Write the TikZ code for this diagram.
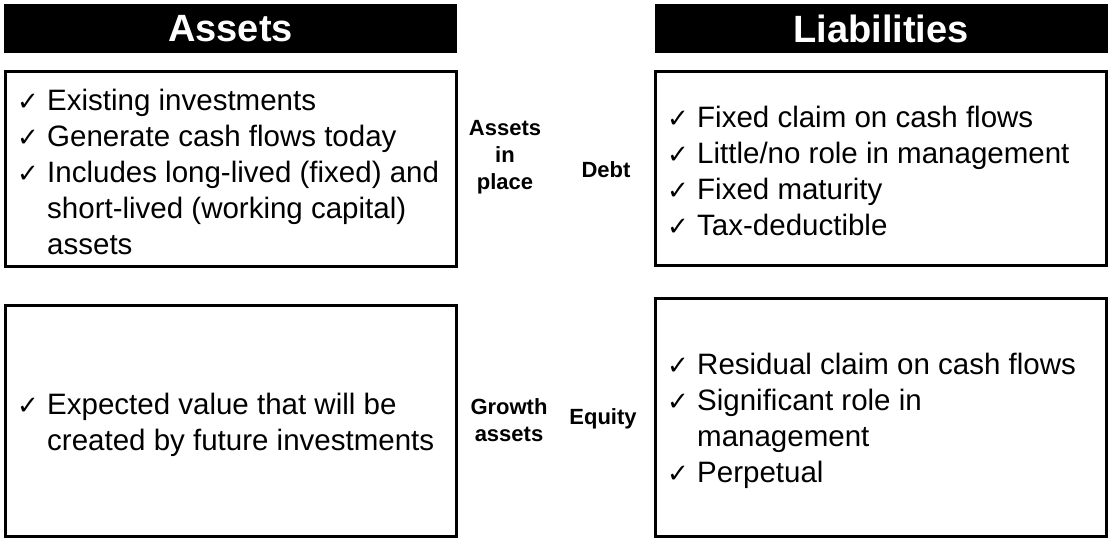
\documentclass[tikz,border=0pt]{standalone}
\usepackage{fontspec}
\setmainfont{Liberation Sans}
\newfontfamily\symfont{DejaVu Sans}

% tick mark followed by the gap up to the item text
\newcommand\chk{\makebox[29pt][l]{\hspace{-1pt}\symfont\fontsize{26}{26}\selectfont ✓}}
\newcommand\bodyfont{\fontsize{29.5}{36}\selectfont}
% checked list, one row per printed line
\newcommand\chklist[1]{\bodyfont\begin{tabular}[t]{@{}l@{}l@{}}#1\end{tabular}}

\tikzset{
  hdr/.style={fill=black, text=white, inner sep=0pt, minimum width=453pt,
    minimum height=49pt, font=\bfseries\fontsize{38}{38}\selectfont},
  card/.style={draw=black, line width=3pt, inner sep=0pt, minimum width=451pt},
  items/.style={anchor=base west, inner sep=0pt},
  tag/.style={align=center, inner sep=0pt, font=\bfseries\fontsize{22}{27}\selectfont}
}

\begin{document}
\begin{tikzpicture}[x=1pt, y=-1pt]
  \useasboundingbox (0,0) rectangle (1115,544);

  % column headers
  \node[hdr] (hA) at (230.5,28.5) {Assets};
  \node[hdr] (hL) at (881,28.5) {Liabilities};

  % bordered boxes
  \node[card, minimum height=195pt] (inplace) at (231,169) {};
  \node[card, minimum height=231pt] (growth) at (231,421) {};
  \node[card, minimum height=194pt] (debt) at (881,168.5) {};
  \node[card, minimum height=238pt] (equity) at (881,417.5) {};

  % box contents
  \node[items] (inplaceT) at (18,110) {\chklist{%
    \chk & Existing investments\\
    \chk & Generate cash flows today\\
    \chk & Includes long-lived (fixed) and\\
         & short-lived (working capital)\\
         & assets}};
  \node[items] (growthT) at (18,414) {\chklist{%
    \chk & Expected value that will be\\
         & created by future investments}};
  \node[items] (debtT) at (668,127) {\chklist{%
    \chk & Fixed claim on cash flows\\
    \chk & Little/no role in management\\
    \chk & Fixed maturity\\
    \chk & Tax-deductible}};
  \node[items] (equityT) at (668,374) {\chklist{%
    \chk & Residual claim on cash flows\\
    \chk & Significant role in\\
         & management\\
    \chk & Perpetual}};

  % labels between the columns
  \node[tag] (tInplace) at (505,157) {Assets\\in\\place};
  \node[tag] (tDebt) at (606,170) {Debt};
  \node[tag] (tGrowth) at (509,420) {Growth\\assets};
  \node[tag] (tEquity) at (603,419) {Equity};
\end{tikzpicture}
\end{document}
